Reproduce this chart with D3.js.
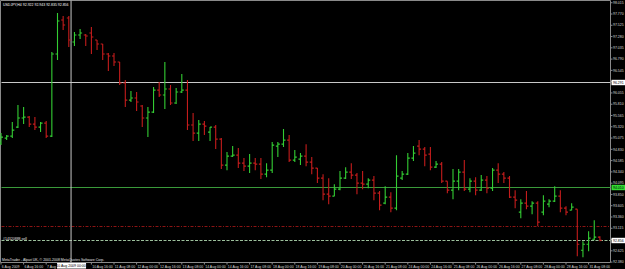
<!DOCTYPE html>
<html>
<head>
<meta charset="utf-8">
<script src="https://cdn.jsdelivr.net/npm/d3@7"></script>
<style>
html, body { margin: 0; padding: 0; background: #000; overflow: hidden; }
#chart { width: 625px; height: 269px; }
text { font-family: "Liberation Sans", Arial, sans-serif; }
</style>
</head>
<body>
<div id="chart"></div>
<script>
/*
 * USDJPY H4 bars, 6 Aug 2009 00:00 .. 31 Aug 2009 16:00.
 */
var symbol = 'USDJPY,H4';

var opens = [94.965, 95.074, 95.117, 95.313, 95.509, 95.530, 95.378, 95.313, 95.400, 95.117,
    96.900, 97.639, 97.683, 97.161, 97.313, 97.313, 97.357, 97.204, 97.117, 96.900,
    96.857, 96.726, 96.270, 95.900, 95.944, 95.770, 95.509, 95.639, 96.117, 96.009,
    96.139, 95.835, 96.074, 96.117, 95.357, 95.183, 95.378, 95.204, 95.313, 95.052,
    94.487, 94.683, 94.704, 94.530, 94.465, 94.530, 94.509, 94.291, 94.378, 94.900,
    94.943, 95.030, 94.596, 94.617, 94.683, 94.552, 94.422, 94.204, 93.856, 93.813,
    93.965, 94.204, 94.335, 94.270, 94.096, 94.074, 94.161, 93.878, 93.661, 93.791,
    93.552, 94.204, 94.291, 94.639, 94.900, 94.835, 94.726, 94.443, 94.509, 94.139,
    93.943, 94.139, 94.335, 93.965, 94.139, 93.943, 94.161, 93.987, 94.378, 94.291,
    94.204, 93.791, 93.465, 93.661, 93.596, 93.661, 93.465, 93.639, 93.704, 93.813,
    93.552, 93.509, 93.530, 92.639, 92.769, 92.878, 92.922];

var highs = [95.183, 95.139, 95.422, 95.791, 95.748, 95.552, 95.530, 95.422, 95.444, 96.944,
    97.791, 97.726, 97.726, 97.378, 97.444, 97.335, 97.487, 97.204, 97.117, 96.922,
    96.922, 96.726, 96.335, 96.096, 96.074, 95.791, 95.748, 96.183, 96.291, 96.726,
    96.226, 96.161, 96.465, 96.335, 95.617, 95.465, 95.444, 95.313, 95.357, 95.074,
    94.770, 94.900, 94.857, 94.639, 94.726, 94.639, 94.639, 94.530, 94.987, 94.987,
    95.270, 95.139, 94.813, 94.748, 94.943, 94.661, 94.422, 94.291, 94.204, 94.074,
    94.357, 94.443, 94.530, 94.313, 94.357, 94.204, 94.248, 93.922, 94.030, 93.900,
    94.704, 94.357, 94.748, 94.900, 95.030, 94.878, 94.878, 94.574, 94.552, 94.139,
    94.400, 94.400, 94.596, 94.204, 94.226, 94.270, 94.248, 94.422, 94.530, 94.335,
    94.248, 93.943, 93.748, 93.922, 93.704, 93.704, 93.835, 93.748, 94.030, 93.943,
    93.596, 93.661, 93.530, 92.835, 93.052, 93.291, 92.943];

var lows = [94.922, 95.030, 95.074, 95.291, 95.378, 95.313, 95.248, 95.204, 95.074, 95.096,
    96.770, 97.422, 97.052, 97.074, 97.226, 97.074, 96.900, 96.987, 96.770, 96.531,
    96.639, 96.226, 95.748, 95.857, 95.661, 95.313, 95.096, 95.617, 95.965, 95.704,
    95.791, 95.813, 96.052, 95.248, 95.009, 95.009, 95.139, 95.009, 94.835, 94.400,
    94.378, 94.661, 94.422, 94.357, 94.313, 94.378, 94.183, 94.226, 94.313, 94.661,
    94.878, 94.552, 94.552, 94.487, 94.465, 94.291, 94.096, 93.726, 93.639, 93.813,
    93.943, 94.183, 94.183, 93.856, 93.965, 93.987, 93.726, 93.509, 93.639, 93.465,
    93.509, 94.161, 94.270, 94.574, 94.704, 94.465, 94.378, 94.422, 94.096, 93.878,
    93.748, 93.943, 93.922, 93.900, 93.835, 93.922, 93.878, 93.922, 94.096, 94.096,
    93.770, 93.552, 93.335, 93.530, 93.422, 93.161, 93.400, 93.574, 93.683, 93.465,
    93.400, 93.509, 92.509, 92.487, 92.617, 92.856, 92.835];

var closes = [95.096, 95.117, 95.248, 95.509, 95.530, 95.378, 95.313, 95.400, 95.117, 96.900,
    97.617, 97.531, 97.204, 97.313, 97.357, 97.291, 97.270, 97.117, 96.900, 96.857,
    96.726, 96.270, 95.900, 95.944, 95.857, 95.509, 95.639, 96.117, 96.009, 96.139,
    95.835, 96.074, 96.117, 95.357, 95.183, 95.378, 95.335, 95.313, 95.052, 94.487,
    94.683, 94.704, 94.530, 94.465, 94.530, 94.509, 94.291, 94.378, 94.922, 94.943,
    95.030, 94.596, 94.661, 94.683, 94.552, 94.422, 94.204, 93.856, 93.813, 93.965,
    94.204, 94.335, 94.270, 94.096, 94.074, 94.161, 93.878, 93.617, 93.791, 93.552,
    94.248, 94.291, 94.639, 94.748, 94.835, 94.704, 94.443, 94.509, 94.139, 93.943,
    94.139, 94.335, 93.965, 94.139, 93.943, 94.161, 93.987, 94.378, 94.291, 94.204,
    93.791, 93.726, 93.661, 93.596, 93.661, 93.248, 93.704, 93.704, 93.813, 93.552,
    93.465, 93.574, 92.769, 92.769, 92.900, 92.922, 92.856];

/*
 * Time scale labels, one every 4 bars.
 */
var dateLabels = ['6 Aug 2009', '6 Aug 16:00', '7 Aug 08:00', '10 Aug 00:00', '10 Aug 16:00',
    '11 Aug 08:00', '12 Aug 00:00', '12 Aug 16:00', '13 Aug 08:00', '14 Aug 00:00',
    '14 Aug 16:00', '17 Aug 08:00', '18 Aug 00:00', '18 Aug 16:00', '19 Aug 08:00',
    '20 Aug 00:00', '20 Aug 16:00', '21 Aug 08:00', '24 Aug 00:00', '24 Aug 16:00',
    '25 Aug 08:00', '26 Aug 00:00', '26 Aug 16:00', '27 Aug 08:00', '28 Aug 00:00',
    '28 Aug 16:00', '31 Aug 08:00'];

/*
 * Price scale labels.
 */
var priceTicks = ['98.015', '97.770', '97.525', '97.280', '97.035', '96.790', '96.545', '96.300',
    '96.055', '95.810', '95.565', '95.320', '95.075', '94.830', '94.585', '94.340', '94.095',
    '93.850', '93.605', '93.360', '93.115', '92.870', '92.625', '92.380'];

/*
 * Horizontal objects: line, green line, stop level, order / bid.
 */
var levelPrices = [96.291, 94.010, 93.161, 92.856];
var levelLabels = ['96.291', '94.010', '', '92.856'];

/*
 * Vertical line object (bar position) and its label.
 */
var vLineBar = 12.4;
var vLineLabel = '10 Aug 2009 00:00';

var orderLabel = '#14320888 sell';
var copyright = 'MetaTrader - Alpari UK, \u00a9 2001-2008 MetaQuotes Software Corp.';


/**
 * @public
 * @class
 */
function BarChart() {
    /**
     * Outer dimensions.
     * @private
     */
    this._width = 625;
    this._height = 269;
    /**
     * Plot area.
     * @private
     */
    this._plot = {left: 0.5, right: 610.5, top: 0.5, bottom: 262.5};
    /**
     * Scales.
     * @private
     */
    this._xScale = d3.scaleLinear().domain([0, 106]).range([1, 599.9]);
    this._yScale = d3.scaleLinear().domain([92.380, 97.770]).range([262.1, 14]);
    /**
     * Colors.
     * @private
     */
    this._colors = {
        up: '#33cc33',
        down: '#c41c1c',
        axis: '#8a8a8a',
        text: '#d8d8d8'
    };
    this._fontSize = 3.5;
}


/**
 * Render chart.
 * @public
 * @param {String} selection
 * @returns {BarChart}
 */
BarChart.prototype.renderTo = function(selection) {

    this._svg = d3.select(selection).append('svg')
        .attr('width', this._width)
        .attr('height', this._height)
        .style('background', '#000');

    this._renderFrame();
    this._renderLevels();
    this._renderBars();
    this._renderTexts();
    this._renderPriceAxis();
    this._renderTimeAxis();

    return this;
};


/**
 * Chart border.
 * @private
 */
BarChart.prototype._renderFrame = function() {

    var p = this._plot;

    this._svg.append('path')
        .attr('d', 'M' + p.left + ',' + p.bottom + 'V' + p.top + 'H' + p.right + 'V' + p.bottom + 'H' + p.left)
        .attr('fill', 'none')
        .attr('stroke', this._colors.axis)
        .attr('stroke-width', 1);
};


/**
 * Horizontal and vertical line objects.
 * @private
 */
BarChart.prototype._renderLevels = function() {

    var self = this;
    var p = this._plot;
    var styles = [
        {stroke: '#c8c8c8', dash: null},
        {stroke: '#3a9a3a', dash: null},
        {stroke: '#8c1414', dash: '3,1.5,1,1.5'},
        {stroke: '#9cc09c', dash: '3,1.5'}
    ];

    this._svg.append('g')
        .selectAll('line')
        .data(levelPrices)
        .join('line')
        .attr('x1', p.left + 1)
        .attr('x2', p.right)
        .attr('y1', d => Math.round(self._yScale(d)) + 0.5)
        .attr('y2', d => Math.round(self._yScale(d)) + 0.5)
        .attr('stroke', (d, i) => styles[i].stroke)
        .attr('stroke-dasharray', (d, i) => styles[i].dash)
        .attr('stroke-width', 1);
    /*
     * Vertical line.
     */
    var vx = this._xScale(vLineBar);

    this._svg.append('line')
        .attr('x1', vx).attr('x2', vx)
        .attr('y1', p.top).attr('y2', p.bottom)
        .attr('stroke', '#c8c8c8')
        .attr('stroke-width', 1);
};


/**
 * OHLC bars.
 * @private
 */
BarChart.prototype._renderBars = function() {

    var self = this;
    var x = this._xScale;
    var y = this._yScale;
    var bars = opens.map(function(o, i) {
        return {i: i, o: o, h: highs[i], l: lows[i], c: closes[i]};
    });

    this._svg.append('g')
        .selectAll('path')
        .data(bars)
        .join('path')
        .attr('d', function(d) {
            var cx = x(d.i);
            return 'M' + cx + ',' + y(d.h) + 'V' + y(d.l)
                + 'M' + (cx - 2) + ',' + y(d.o) + 'H' + cx
                + 'M' + cx + ',' + y(d.c) + 'H' + (cx + 2);
        })
        .attr('fill', 'none')
        .attr('stroke', d => d.c >= d.o ? self._colors.up : self._colors.down)
        .attr('stroke-width', 1.1);
};


/**
 * Title, order label and copyright.
 * @private
 */
BarChart.prototype._renderTexts = function() {

    var last = opens.length - 1;
    var title = symbol + '  ' + [opens[last], highs[last], lows[last], closes[last]]
        .map(v => v.toFixed(3)).join(' ');

    this._svg.append('text')
        .attr('x', 3)
        .attr('y', 5.5)
        .attr('fill', '#ffffff')
        .attr('font-size', this._fontSize)
        .text(title);

    this._svg.append('text')
        .attr('x', 3)
        .attr('y', Math.round(this._yScale(levelPrices[3])) - 0.5)
        .attr('fill', '#e0e0e0')
        .attr('font-size', this._fontSize)
        .text(orderLabel);

    this._svg.append('text')
        .attr('x', 2)
        .attr('y', 260.5)
        .attr('fill', '#e0e0e0')
        .attr('font-size', this._fontSize)
        .text(copyright);
};


/**
 * Right price scale.
 * @private
 */
BarChart.prototype._renderPriceAxis = function() {

    var self = this;
    var p = this._plot;
    var g = this._svg.append('g');

    g.selectAll('line')
        .data(priceTicks)
        .join('line')
        .attr('x1', p.right).attr('x2', p.right + 2)
        .attr('y1', d => self._yScale(+d))
        .attr('y2', d => self._yScale(+d))
        .attr('stroke', this._colors.axis);

    g.selectAll('text')
        .data(priceTicks)
        .join('text')
        .attr('x', p.right + 2.5)
        .attr('y', d => self._yScale(+d) + 1.2)
        .attr('fill', this._colors.text)
        .attr('font-size', this._fontSize)
        .text(d => d);
    /*
     * Highlighted level labels.
     */
    var fills = ['#ffffff', '#33dd33', null, '#ffffff'];

    levelPrices.forEach(function(v, i) {
        if (!fills[i]) {
            return;
        }
        var yy = Math.round(self._yScale(v)) + 0.5;
        g.append('rect')
            .attr('x', p.right + 1)
            .attr('y', yy - 2.7)
            .attr('width', 14)
            .attr('height', 5.4)
            .attr('fill', fills[i]);
        g.append('text')
            .attr('x', p.right + 2.5)
            .attr('y', yy + 1.2)
            .attr('fill', '#000')
            .attr('font-size', self._fontSize)
            .text(levelLabels[i]);
    });
};


/**
 * Bottom time scale.
 * @private
 */
BarChart.prototype._renderTimeAxis = function() {

    var self = this;
    var p = this._plot;
    var g = this._svg.append('g');
    var vx = this._xScale(vLineBar);
    /*
     * Labels hidden under the vertical line label are not drawn.
     */
    var ticks = dateLabels
        .map((d, i) => ({text: d, x: self._xScale(i * 4)}))
        .filter(d => Math.abs(d.x - vx) > 10);

    g.selectAll('line')
        .data(ticks)
        .join('line')
        .attr('x1', d => d.x)
        .attr('x2', d => d.x)
        .attr('y1', p.bottom).attr('y2', p.bottom + 2)
        .attr('stroke', this._colors.axis);

    g.selectAll('text')
        .data(ticks)
        .join('text')
        .attr('x', d => d.x + 0.8)
        .attr('y', 267.6)
        .attr('fill', this._colors.text)
        .attr('font-size', this._fontSize)
        .text(d => d.text);
    /*
     * Vertical line label.
     */
    g.append('rect')
        .attr('x', vx - 14)
        .attr('y', 263)
        .attr('width', 29)
        .attr('height', 5.6)
        .attr('fill', '#ffffff');

    g.append('text')
        .attr('x', vx)
        .attr('y', 267.4)
        .attr('text-anchor', 'middle')
        .attr('fill', '#000')
        .attr('font-size', this._fontSize)
        .text(vLineLabel);
};


new BarChart().renderTo('#chart');
</script>
</body>
</html>
